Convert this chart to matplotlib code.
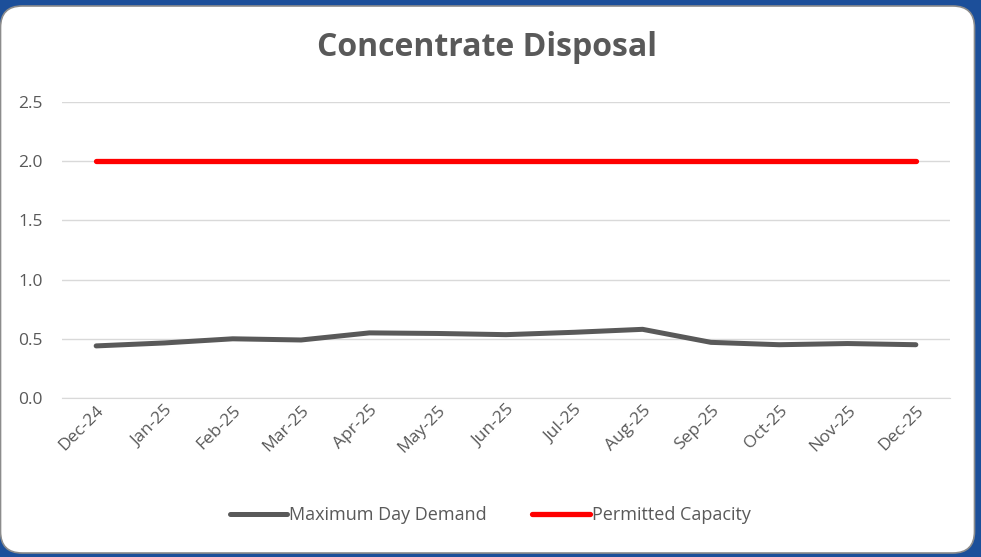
"""
Concentrate disposal: maximum day demand vs permitted capacity (MGD).
"""

import matplotlib.pyplot as plt
from matplotlib.patches import FancyBboxPatch

months = ["Dec-24", "Jan-25", "Feb-25", "Mar-25", "Apr-25", "May-25", "Jun-25",
          "Jul-25", "Aug-25", "Sep-25", "Oct-25", "Nov-25", "Dec-25"]
max_day_demand = [0.44, 0.465, 0.50, 0.49, 0.55, 0.545, 0.535, 0.555, 0.58,
                  0.47, 0.45, 0.46, 0.45]
permitted_capacity = [2.0] * len(months)
y_ticks = [0.0, 0.5, 1.0, 1.5, 2.0, 2.5]

TEXT_GRAY = "#595959"

plt.rcParams["font.family"] = ["Open Sans", "DejaVu Sans"]

W, H = 981, 557
fig = plt.figure(figsize=(W / 100, H / 100), dpi=100)
fig.patch.set_facecolor("#1c4f9a")

# white rounded panel with a soft grey edge (flush with the left edge)
panel = FancyBboxPatch((0.5 / W, 4 / H), 974 / W, 547 / H,
                       boxstyle="round,pad=0,rounding_size=0.022",
                       transform=fig.transFigure, facecolor="white",
                       edgecolor="#8c8c8c", linewidth=1.2, zorder=-10,
                       mutation_aspect=W / H)
fig.patches.append(panel)

ax = fig.add_axes([62 / W, (H - 398) / H, (950 - 62) / W, (398 - 102) / H])
ax.set_facecolor("none")
ax.set_zorder(1)

x = list(range(len(months)))
ax.plot(x, max_day_demand, color="#595959", linewidth=3.6,
        solid_capstyle="round", solid_joinstyle="round",
        label="Maximum Day Demand", zorder=3)
ax.plot(x, permitted_capacity, color="#ff0000", linewidth=3.8,
        solid_capstyle="round", label="Permitted Capacity", zorder=3)

ax.set_xlim(-0.5, len(months) - 0.5)
ax.set_ylim(0, 2.5)
ax.set_yticks(y_ticks)
ax.set_yticklabels([f"{v:.1f}" for v in y_ticks])
ax.set_xticks(x)
ax.set_xticklabels(months, rotation=45, ha="right", rotation_mode="anchor")

ax.grid(axis="y", color="#d9d9d9", linewidth=1)
ax.set_axisbelow(True)
for side in ["top", "right", "left"]:
    ax.spines[side].set_visible(False)
ax.spines["bottom"].set_color("#d9d9d9")
ax.tick_params(axis="both", length=0, labelsize=12.5, labelcolor=TEXT_GRAY)
ax.tick_params(axis="y", pad=14)
ax.tick_params(axis="x", pad=3)

fig.text(487 / W, 1 - 47 / H, "Concentrate Disposal", ha="center", va="center",
         fontsize=23, fontweight="bold", color=TEXT_GRAY)

leg = fig.legend(loc="center", bbox_to_anchor=(490 / W, 1 - 515 / H), ncol=2,
                 frameon=False, fontsize=13, handlelength=3.2,
                 handletextpad=0.1, columnspacing=2.5)
for t in leg.get_texts():
    t.set_color(TEXT_GRAY)

fig.savefig("out.png", dpi=100, facecolor=fig.get_facecolor())
